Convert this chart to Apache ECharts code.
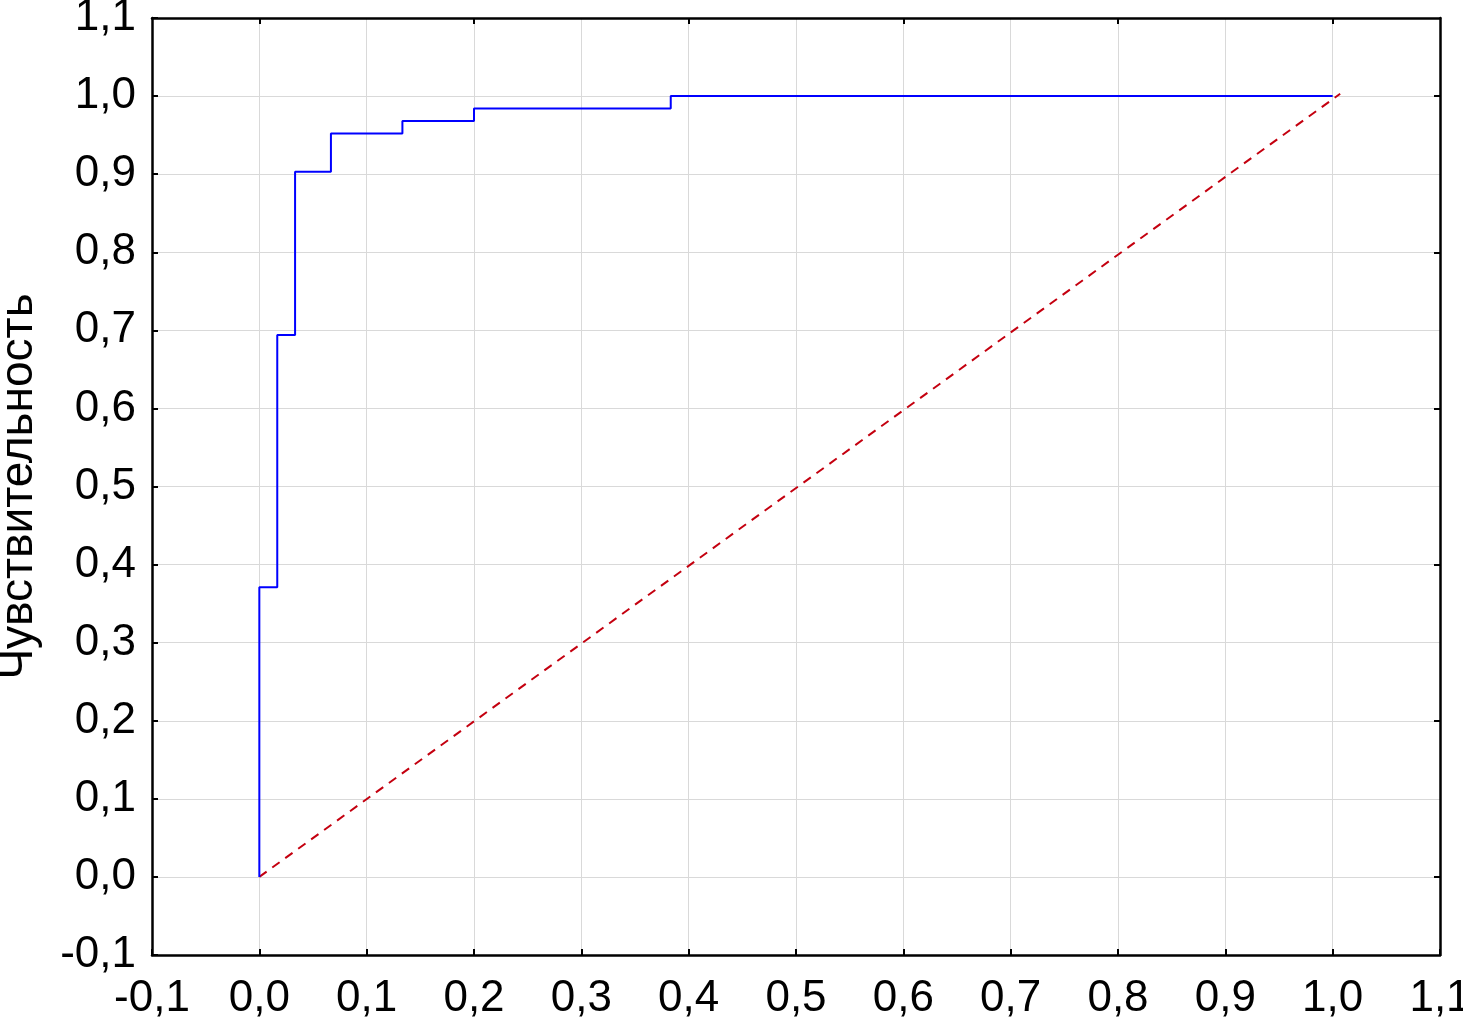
<!DOCTYPE html>
<html>
<head>
<meta charset="utf-8">
<script src="https://cdn.jsdelivr.net/npm/echarts@6/dist/echarts.min.js"></script>
<style>html,body{margin:0;padding:0;background:#fff}#c{width:1463px;height:1019px}</style>
</head>
<body>
<div id="c"></div>
<script>
// ROC curve data (1 - specificity, sensitivity)
const rocFpr = [0, 0, 0.0167, 0.0333, 0.0667, 0.1333, 0.2, 0.3833, 1.0];
const rocTpr = [0, 0.371, 0.694, 0.903, 0.952, 0.968, 0.984, 1.0, 1.0];
// reference diagonal
const diagX = [0, 1.007];
const diagY = [0, 1.003];
// axis settings
const axisMin = -0.1, axisMax = 1.1, axisStep = 0.1;
const sparseTicks = [0, 0.2, 0.4, 0.6, 0.8, 1.0];
const yAxisTitle = 'Чувствительность';

const fmt = v => { let r = Math.round(v * 10) / 10 + 0; return r.toFixed(1).replace('.', ','); };
const FONT = 'Liberation Sans, Arial, sans-serif';
const lineBase = { show: true, onZero: false, lineStyle: { color: '#000', width: 2.5 } };
const tickBase = { show: true, inside: true, length: 6, lineStyle: { color: '#000', width: 2 } };

const chart = echarts.init(document.getElementById('c'), null, { renderer: 'canvas' });
chart.setOption({
  animation: false,
  backgroundColor: '#fff',
  grid: { left: 152, right: 23, top: 18, bottom: 64, containLabel: false, outerBoundsMode: 'none' },
  xAxis: [
    { type: 'value', position: 'bottom', min: axisMin, max: axisMax, interval: axisStep,
      axisLine: lineBase, axisTick: tickBase,
      axisLabel: { formatter: fmt, fontSize: 44, color: '#000', fontFamily: FONT, margin: 22, showMinLabel: true, showMaxLabel: true, hideOverlap: false },
      splitLine: { show: true, lineStyle: { color: '#d9d9d9', width: 1 } } },
    { type: 'value', position: 'top', min: axisMin, max: axisMax,
      axisLine: lineBase, axisTick: Object.assign({}, tickBase, { customValues: sparseTicks }),
      axisLabel: { show: false }, splitLine: { show: false } }
  ],
  yAxis: [
    { type: 'value', position: 'left', min: axisMin, max: axisMax, interval: axisStep,
      axisLine: lineBase, axisTick: tickBase,
      axisLabel: { formatter: fmt, fontSize: 44, color: '#000', fontFamily: FONT, margin: 16, showMinLabel: true, showMaxLabel: true, hideOverlap: false },
      splitLine: { show: true, lineStyle: { color: '#d9d9d9', width: 1 } },
      name: yAxisTitle, nameLocation: 'middle', nameGap: 110,
      nameTextStyle: { fontSize: 46, color: '#000', fontFamily: FONT } },
    { type: 'value', position: 'right', min: axisMin, max: axisMax,
      axisLine: lineBase, axisTick: Object.assign({}, tickBase, { customValues: sparseTicks }),
      axisLabel: { show: false }, splitLine: { show: false } }
  ],
  series: [
    { type: 'line', xAxisIndex: 0, yAxisIndex: 0, step: 'end', symbol: 'none', z: 3,
      data: rocFpr.map((x, i) => [x, rocTpr[i]]),
      lineStyle: { color: '#0000ff', width: 2 } },
    { type: 'line', xAxisIndex: 0, yAxisIndex: 0, symbol: 'none', z: 2,
      data: diagX.map((x, i) => [x, diagY[i]]),
      lineStyle: { color: '#c4000f', width: 2, type: [9, 7] } }
  ]
});
</script>
</body>
</html>
